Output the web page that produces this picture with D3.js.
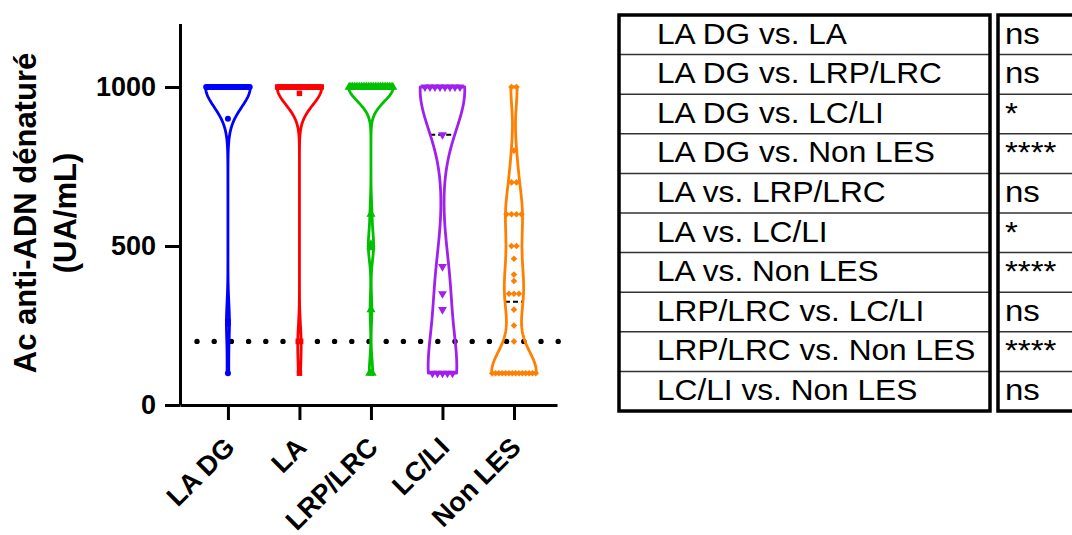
<!DOCTYPE html>
<html><head><meta charset="utf-8">
<script src="https://cdn.jsdelivr.net/npm/d3@7"></script>
<style>body{margin:0;background:#fff} svg{display:block}</style>
</head><body>
<svg id="c" width="1072" height="535"></svg>
<script>
// ---------- data ----------
const categories = ["LA DG", "LA", "LRP/LRC", "LC/LI", "Non LES"];
const laDG = [1000,1000,1000,1000,1000,1000,1000,1000,1000,1000,1000,1000,1000,1000,1000,
              1000,1000,1000,1000,1000,1000,1000,1000,1000,1000,1000,1000,1000,1000,1000,
              900, 265, 255, 100];
const la = [1000,1000,1000,1000,1000,1000,1000,1000,1000,1000,1000,1000,1000,1000,
            1000,1000,1000,1000,1000,1000,1000,1000,1000,1000,1000,1000,1000,1000,
            980, 200, 200, 100];
const lrpLrc = [1000,1000,1000,1000,1000,1000,1000,1000,1000,1000,1000,1000,1000,
                1000,1000,1000,1000,1000,1000,1000,1000,1000,1000,1000,1000,1000,
                600, 505, 500, 495, 300, 100, 100];
const lcLi = [1000,1000,1000,1000,1000,1000,1000,1000, 850, 435, 350, 300, 100,100,100,100,100];
const nonLes = [1000,1000, 800, 700,700, 600,600,600,600, 500,500, 460, 410, 390,
                350,350,350, 300, 250, 200,
                100,100,100,100,100,100,100,100,100,100,100,100,100,100];
const seriesValues = [laDG, la, lrpLrc, lcLi, nonLes];
const yTicks = [0, 500, 1000];
const thresholdValue = 200;
const comparisons = ["LA DG vs. LA","LA DG vs. LRP/LRC","LA DG vs. LC/LI","LA DG vs. Non LES",
  "LA vs. LRP/LRC","LA vs. LC/LI","LA vs. Non LES","LRP/LRC vs. LC/LI","LRP/LRC vs. Non LES","LC/LI vs. Non LES"];
const significance = ["ns","ns","*","****","ns","*","****","ns","****","ns"];

// ---------- styles ----------
const colors = ["#0000FF", "#FF0000", "#00C000", "#A020F0", "#FF8000"];
const bandwidths = [62, 55, 45, 120, 68];
const symbolTypes = [d3.symbolCircle, d3.symbolSquare, d3.symbolTriangle, d3.symbolTriangle, d3.symbolSquare];
const symbolRot = [0, 0, 0, 180, 45];
const symbolSizes = [28, 30, 36, 34, 22];
const maxHalf = 22.3;
const FONT = "'Liberation Sans', Arial, sans-serif";

const svg = d3.select("#c");
const y = d3.scaleLinear().domain([0, 1200]).range([405, 23.4]);
const x = d3.scalePoint().domain(categories).range([180, 557]).padding(0.636).align(0.527);

// dotted threshold line
svg.append("line")
  .attr("x1", 197).attr("x2", 559).attr("y1", y(thresholdValue)).attr("y2", y(thresholdValue))
  .attr("stroke", "#000").attr("stroke-width", 5.4).attr("stroke-linecap", "round")
  .attr("stroke-dasharray", "0 17.2");

// violins
categories.forEach((cat, i) => {
  const vals = seriesValues[i];
  const h = bandwidths[i];
  const lo = d3.min(vals), hi = d3.max(vals);
  const dens = v => d3.sum(vals, xi => Math.exp(-((v - xi) ** 2) / (2 * h * h)));
  const steps = d3.range(0, 201).map(k => lo + (hi - lo) * k / 200);
  const dmax = d3.max(steps, dens);
  const hw = v => maxHalf * dens(v) / dmax;
  const cx = x(cat);
  const g = svg.append("g");
  // median
  const med = d3.median(vals);
  g.append("line")
    .attr("x1", cx - hw(med)).attr("x2", cx + hw(med)).attr("y1", y(med)).attr("y2", y(med))
    .attr("stroke", "#000").attr("stroke-width", 2).attr("stroke-dasharray", "5 3");
  // outline
  const pts = steps.slice().reverse().map(v => [cx - hw(v), y(v)])
    .concat(steps.map(v => [cx + hw(v), y(v)]));
  g.append("path").attr("d", d3.line()(pts) + "Z")
    .attr("fill", "none").attr("stroke", colors[i]).attr("stroke-width", 2.8)
    .attr("stroke-linejoin", "round");
  // points, duplicates spread side by side
  const groups = d3.groups(vals, v => v);
  const sym = d3.symbol().type(symbolTypes[i]).size(symbolSizes[i]);
  groups.forEach(([v, arr]) => {
    const k = arr.length;
    const avail = Math.max(0, 2 * hw(v) - 1);
    const sp = k > 1 ? Math.min(5, avail / (k - 1)) : 0;
    arr.forEach((_, j) => {
      const px = cx + (j - (k - 1) / 2) * sp;
      g.append("path").attr("d", sym())
        .attr("transform", `translate(${px},${y(v)}) rotate(${symbolRot[i]})`)
        .attr("fill", colors[i]);
    });
  });
});

// axes
const yAxis = svg.append("g").attr("transform", "translate(180,0)")
  .call(d3.axisLeft(y).tickValues(yTicks).tickSize(15).tickSizeOuter(0).tickPadding(9).tickFormat(d3.format("d")));
const xAxis = svg.append("g").attr("transform", "translate(0,405)")
  .call(d3.axisBottom(x).tickSize(15).tickSizeOuter(0));
[yAxis, xAxis].forEach(a => {
  a.select(".domain").attr("stroke", "#000").attr("stroke-width", 3);
  a.selectAll(".tick line").attr("stroke", "#000").attr("stroke-width", 3);
  a.selectAll("text").attr("font-family", FONT).attr("font-weight", "bold").attr("font-size", 27).attr("fill", "#000");
});
xAxis.selectAll(".tick text").attr("y", 0).attr("dy", 0).attr("text-anchor", "end")
  .attr("transform", "translate(8,44) rotate(-45)");

// y title
const yt = svg.append("g").attr("font-family", FONT).attr("font-weight", "bold").attr("font-size", 31).attr("text-anchor", "middle");
yt.append("text").attr("transform", "translate(36,213) rotate(-90)").text("Ac anti-ADN dénaturé");
yt.append("text").attr("transform", "translate(76,213) rotate(-90)").text("(UA/mL)");

// table
const top0 = 15, rowH = 39.6, nRows = comparisons.length;
const tbl = svg.append("g");
const rows = d3.range(nRows);
tbl.selectAll("line.sep").data(rows.slice(1)).join("line")
  .attr("x1", 619).attr("x2", 990).attr("y1", r => top0 + r * rowH).attr("y2", r => top0 + r * rowH)
  .attr("stroke", "#333").attr("stroke-width", 1.5);
tbl.selectAll("line.sep2").data(rows.slice(1)).join("line")
  .attr("x1", 998).attr("x2", 1075).attr("y1", r => top0 + r * rowH).attr("y2", r => top0 + r * rowH)
  .attr("stroke", "#333").attr("stroke-width", 1.5);
tbl.append("rect").attr("x", 619).attr("y", top0).attr("width", 371).attr("height", nRows * rowH)
  .attr("fill", "none").attr("stroke", "#000").attr("stroke-width", 3.5);
tbl.append("rect").attr("x", 998).attr("y", top0).attr("width", 100).attr("height", nRows * rowH)
  .attr("fill", "none").attr("stroke", "#000").attr("stroke-width", 3.5);
tbl.selectAll("text.cmp").data(comparisons).join("text")
  .attr("transform", (d, i) => `translate(657,${top0 + i * rowH + 28.5}) scale(1.055,1)`)
  .attr("font-family", FONT).attr("font-size", 30).attr("fill", "#000").text(d => d);
tbl.selectAll("text.sig").data(significance).join("text")
  .attr("transform", (d, i) => `translate(1005,${top0 + i * rowH + 28.5}) scale(1.1,1)`)
  .attr("font-family", FONT).attr("font-size", 30).attr("fill", "#000").text(d => d);
</script>
</body></html>
